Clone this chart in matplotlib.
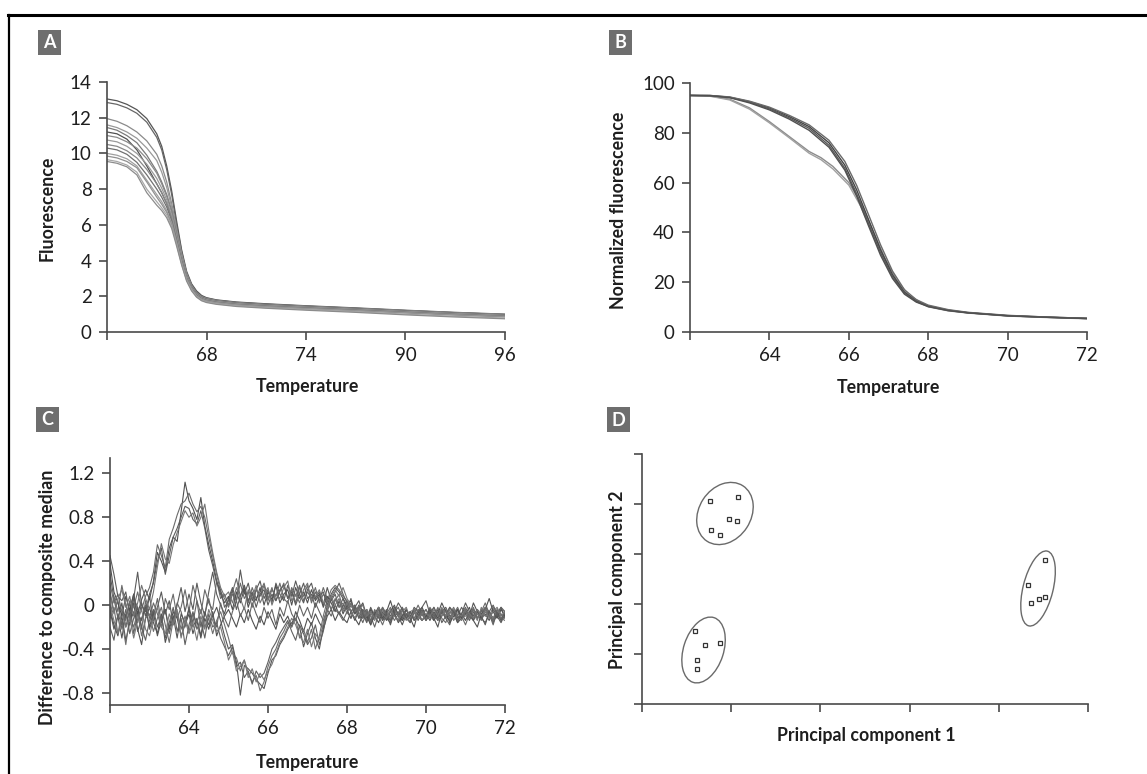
"""Four-panel HRM figure: raw melt curves, normalized curves,
difference plot and PCA clustering."""

import numpy as np
import matplotlib.pyplot as plt
from matplotlib.patches import Ellipse, Rectangle
from matplotlib.lines import Line2D
from matplotlib.transforms import ScaledTranslation

plt.rcParams["font.family"] = ["Lato", "DejaVu Sans"]

# ---
# Panel A: raw fluorescence (x axis is an uneven scale: positions 1..4 = 68, 74, 90, 96)
# ---
a_tick_labels = ["68", "74", "90", "96"]
a_pos = [0.0, 0.1, 0.2, 0.3, 0.4, 0.5, 0.55, 0.6, 0.65, 0.7, 0.75, 0.8,
         0.85, 0.9, 0.95, 1.0, 1.1, 1.3, 1.6, 2.0, 2.5, 3.0, 3.5, 4.0]
a_curves = [
    [13.05, 12.95, 12.75, 12.45, 11.95, 11.1, 10.4, 9.3, 7.9, 6.2, 4.6, 3.4, 2.7, 2.3, 2.05, 1.92, 1.8, 1.68, 1.58, 1.47, 1.35, 1.22, 1.1, 1.0],
    [12.85, 12.75, 12.55, 12.25, 11.75, 10.9, 10.2, 9.1, 7.7, 6.0, 4.5, 3.3, 2.65, 2.25, 2.0, 1.9, 1.78, 1.66, 1.56, 1.45, 1.33, 1.2, 1.08, 0.98],
    [11.95, 11.8, 11.55, 11.2, 10.7, 9.95, 9.3, 8.4, 7.2, 5.8, 4.4, 3.3, 2.6, 2.2, 1.98, 1.88, 1.76, 1.64, 1.54, 1.44, 1.32, 1.2, 1.08, 0.98],
    [11.6, 11.45, 11.2, 10.85, 10.3, 9.6, 8.95, 8.1, 7.0, 5.6, 4.3, 3.2, 2.55, 2.15, 1.95, 1.85, 1.74, 1.62, 1.52, 1.42, 1.3, 1.18, 1.06, 0.96],
    [11.45, 11.3, 11.0, 10.6, 9.9, 9.0, 8.4, 7.7, 6.8, 5.5, 4.2, 3.2, 2.55, 2.15, 1.95, 1.85, 1.73, 1.62, 1.52, 1.42, 1.3, 1.18, 1.06, 0.96],
    [11.2, 11.1, 10.8, 10.2, 9.3, 8.3, 7.8, 7.2, 6.4, 5.3, 4.1, 3.1, 2.5, 2.12, 1.92, 1.82, 1.72, 1.6, 1.5, 1.4, 1.28, 1.16, 1.04, 0.94],
    [11.0, 10.9, 10.65, 10.3, 9.7, 8.9, 8.3, 7.6, 6.7, 5.4, 4.2, 3.15, 2.5, 2.12, 1.92, 1.82, 1.72, 1.6, 1.5, 1.4, 1.28, 1.16, 1.04, 0.94],
    [10.75, 10.65, 10.4, 10.0, 9.4, 8.6, 8.05, 7.4, 6.5, 5.3, 4.1, 3.1, 2.48, 2.1, 1.9, 1.8, 1.7, 1.58, 1.48, 1.38, 1.26, 1.14, 1.02, 0.92],
    [10.5, 10.4, 10.15, 9.75, 9.1, 8.3, 7.8, 7.2, 6.35, 5.2, 4.0, 3.05, 2.45, 2.08, 1.88, 1.78, 1.68, 1.56, 1.46, 1.36, 1.24, 1.12, 1.0, 0.9],
    [10.3, 10.2, 9.95, 9.5, 8.8, 8.0, 7.55, 7.0, 6.2, 5.1, 4.0, 3.0, 2.42, 2.05, 1.86, 1.76, 1.66, 1.54, 1.44, 1.34, 1.22, 1.1, 0.98, 0.88],
    [10.0, 9.9, 9.7, 9.3, 8.5, 7.7, 7.3, 6.8, 6.1, 5.0, 3.9, 2.95, 2.4, 2.02, 1.84, 1.74, 1.64, 1.52, 1.42, 1.32, 1.2, 1.08, 0.96, 0.86],
    [9.85, 9.75, 9.55, 9.2, 8.4, 7.55, 7.15, 6.7, 6.0, 4.95, 3.85, 2.95, 2.38, 2.0, 1.82, 1.72, 1.62, 1.5, 1.4, 1.3, 1.18, 1.06, 0.94, 0.84],
    [9.65, 9.55, 9.35, 8.95, 8.0, 7.3, 6.95, 6.55, 5.9, 4.9, 3.8, 2.9, 2.35, 1.98, 1.78, 1.68, 1.58, 1.46, 1.36, 1.26, 1.14, 1.0, 0.88, 0.78],
    [9.55, 9.45, 9.25, 8.8, 7.8, 7.1, 6.8, 6.4, 5.8, 4.8, 3.75, 2.85, 2.3, 1.95, 1.75, 1.65, 1.55, 1.43, 1.33, 1.22, 1.1, 0.96, 0.84, 0.74],
]
a_colors = ["#555555", "#666666", "#8a8a8a", "#999999", "#7a7a7a", "#505050", "#8a8a8a",
            "#9a9a9a", "#888888", "#707070", "#a0a0a0", "#909090", "#a8a8a8", "#8c8c8c"]

# ---
# Panel B: normalized fluorescence
# ---
b_temp_main = [62, 62.5, 63, 63.5, 64, 64.5, 65, 65.5, 65.9, 66.2, 66.5, 66.8, 67.1,
               67.4, 67.7, 68, 68.5, 69, 69.5, 70, 71, 72]
b_main = [
    [95.0, 95.0, 94.3, 92.5, 90.0, 86.5, 82.5, 76.0, 67.0, 57.0, 45.0, 33.0, 23.0, 16.0, 12.5, 10.5, 8.8, 7.8, 7.2, 6.6, 6.0, 5.5],
    [95.0, 94.9, 94.2, 92.3, 89.6, 86.0, 81.8, 75.0, 65.8, 55.5, 43.5, 31.8, 22.2, 15.6, 12.2, 10.3, 8.7, 7.7, 7.1, 6.5, 5.9, 5.4],
    [95.0, 95.0, 94.4, 92.7, 90.3, 87.0, 83.2, 77.0, 68.5, 58.8, 47.0, 35.0, 24.5, 17.0, 13.0, 10.8, 9.0, 7.9, 7.3, 6.7, 6.0, 5.5],
    [95.0, 94.9, 94.1, 92.0, 89.2, 85.5, 81.0, 74.2, 65.0, 54.5, 42.5, 30.8, 21.5, 15.2, 12.0, 10.2, 8.6, 7.7, 7.1, 6.5, 5.9, 5.4],
]
b_temp_low = [62, 62.5, 63, 63.5, 64, 64.5, 65, 65.3, 65.6, 66, 66.3, 66.6, 66.9, 67.2,
              67.5, 67.8, 68, 68.5, 69, 69.5, 70, 71, 72]
b_low = [
    [95.0, 94.8, 93.5, 90.0, 84.5, 78.5, 72.5, 70.0, 66.5, 60.0, 52.0, 41.0, 30.0, 21.0, 15.0, 12.0, 10.3, 8.6, 7.7, 7.1, 6.5, 5.9, 5.4],
    [95.0, 94.7, 93.2, 89.5, 84.0, 78.0, 71.8, 69.2, 65.5, 59.0, 50.5, 39.5, 28.8, 20.2, 14.5, 11.8, 10.1, 8.5, 7.6, 7.0, 6.4, 5.8, 5.3],
]
b_main_colors = ["#444444", "#5a5a5a", "#6a6a6a", "#505050"]
b_low_colors = ["#8c8c8c", "#a0a0a0"]

# ---
# Panel C: difference to composite median, 62.0 .. 72.0 in 0.1 steps
# ---
c_temp = np.round(np.linspace(62.0, 72.0, 101), 1)
c_peak = [
    [0.38, 0.12, 0.02, -0.10, 0.08, -0.05, 0.10, -0.08, 0.05, 0.14,
     0.05, 0.22, 0.48, 0.40, 0.30, 0.52, 0.62, 0.58, 0.85, 1.12,
     0.95, 0.88, 0.78, 0.98, 0.72, 0.55, 0.40, 0.22, 0.10, 0.02,
     0.08, -0.04, 0.12, 0.02, 0.15, -0.02, 0.10, 0.04, 0.16, 0.00,
     0.12, 0.05, 0.18, 0.02, 0.10, 0.14, 0.00, 0.16, 0.06, 0.12,
     0.02, 0.14, 0.04, 0.10, -0.02, 0.08, 0.02, -0.06, 0.04, -0.08,
     0.00, -0.06, -0.14, -0.04, 0.02, -0.10, -0.18, -0.08, -0.02, -0.12,
     -0.06, 0.04, -0.08, -0.16, -0.10, -0.04, -0.12, -0.20, -0.06, -0.02,
     -0.10, -0.06, -0.14, -0.08, 0.02, -0.06, -0.16, -0.10, -0.04, -0.12,
     -0.08, -0.02, -0.14, -0.20, -0.08, -0.04, 0.06, -0.06, -0.12, -0.04,
     -0.10],
    [0.20, 0.02, 0.10, -0.06, -0.14, 0.04, -0.02, 0.12, -0.04, 0.08,
     0.16, 0.30, 0.55, 0.45, 0.34, 0.60, 0.70, 0.82, 0.92, 0.95,
     1.02, 0.92, 0.85, 0.90, 0.80, 0.62, 0.45, 0.28, 0.12, 0.06,
     -0.02, 0.10, 0.04, 0.20, 0.06, 0.12, -0.02, 0.14, 0.08, 0.18,
     0.04, 0.14, 0.08, 0.20, 0.06, 0.02, 0.16, 0.08, 0.18, 0.04,
     0.12, 0.06, 0.16, 0.02, 0.10, 0.04, -0.04, 0.06, -0.02, 0.02,
     -0.08, 0.02, -0.06, -0.02, -0.12, -0.06, -0.16, -0.04, -0.10, -0.02,
     -0.10, -0.06, -0.14, -0.08, -0.02, -0.10, -0.06, -0.14, -0.04, -0.10,
     -0.04, -0.12, -0.08, -0.14, -0.04, -0.06, -0.12, -0.04, -0.10, -0.14,
     -0.06, -0.10, -0.02, -0.12, -0.06, -0.02, -0.10, -0.14, -0.04, -0.08,
     -0.12],
    [0.45, 0.28, 0.08, 0.04, 0.12, -0.10, 0.06, 0.30, 0.00, -0.06,
     0.10, 0.20, 0.40, 0.52, 0.28, 0.45, 0.62, 0.70, 0.80, 0.90,
     0.88, 0.78, 0.74, 0.86, 0.70, 0.50, 0.36, 0.20, 0.14, -0.02,
     0.04, 0.14, -0.04, 0.08, 0.18, 0.04, 0.12, -0.02, 0.10, 0.14,
     0.00, 0.10, 0.04, 0.14, 0.18, 0.06, 0.12, 0.00, 0.10, 0.20,
     0.06, 0.10, -0.02, 0.08, 0.12, 0.00, 0.06, -0.04, -0.08, 0.00,
     -0.04, -0.12, -0.02, 0.04, -0.08, -0.16, -0.06, -0.10, -0.02, -0.14,
     -0.08, -0.18, -0.06, 0.02, -0.04, -0.12, -0.06, -0.14, -0.10, -0.02,
     0.04, -0.08, -0.12, -0.04, -0.16, -0.10, -0.02, -0.06, -0.14, -0.08,
     0.02, -0.06, -0.12, -0.04, -0.10, -0.18, -0.06, 0.00, -0.08, -0.14,
     -0.06],
    [0.10, -0.08, 0.06, 0.14, -0.02, 0.08, -0.10, 0.02, 0.18, 0.06,
     -0.04, 0.12, 0.35, 0.56, 0.42, 0.38, 0.55, 0.66, 0.76, 0.86,
     0.80, 0.84, 0.72, 0.80, 0.92, 0.68, 0.48, 0.30, 0.16, 0.08,
     0.12, 0.02, 0.16, 0.06, -0.04, 0.14, 0.06, 0.18, 0.02, 0.10,
     0.16, 0.00, 0.10, 0.06, 0.16, 0.22, 0.04, 0.10, 0.02, 0.14,
     0.20, 0.04, 0.08, 0.14, 0.02, -0.02, 0.08, 0.00, 0.06, -0.06,
     0.02, -0.06, -0.12, -0.04, 0.00, -0.10, -0.06, -0.12, -0.02, -0.08,
     -0.12, -0.04, -0.10, -0.14, -0.06, -0.02, -0.12, -0.06, -0.10, -0.14,
     -0.08, -0.10, -0.04, -0.10, -0.02, -0.10, -0.04, -0.14, -0.08, -0.10,
     -0.04, -0.08, -0.12, -0.04, -0.10, -0.04, -0.12, -0.06, -0.02, -0.10,
     -0.06],
]
c_dip = [
    [-0.05, -0.22, -0.10, -0.30, -0.08, -0.18, 0.02, -0.24, -0.12, -0.02,
     -0.20, -0.06, -0.28, -0.14, -0.04, -0.22, -0.10, -0.30, -0.08, -0.16,
     -0.04, -0.20, -0.12, -0.28, -0.06, -0.18, -0.10, -0.02, -0.14, -0.28,
     -0.40, -0.36, -0.52, -0.82, -0.55, -0.58, -0.62, -0.68, -0.72, -0.76,
     -0.62, -0.50, -0.46, -0.36, -0.30, -0.22, -0.16, -0.12, -0.20, -0.38,
     -0.26, -0.16, -0.30, -0.40, -0.20, 0.00, 0.10, 0.16, 0.12, 0.06,
     0.00, 0.04, -0.08, -0.02, -0.12, -0.04, -0.16, -0.10, -0.02, -0.08,
     -0.14, -0.06, 0.00, -0.10, -0.18, -0.08, -0.12, -0.02, -0.06, -0.14,
     -0.10, -0.04, -0.12, -0.20, -0.06, -0.10, -0.02, -0.08, -0.16, -0.12,
     -0.04, -0.10, 0.02, -0.06, -0.12, -0.08, -0.14, -0.04, -0.10, -0.16,
     -0.08],
    [-0.12, -0.02, -0.26, -0.14, -0.36, -0.10, -0.20, -0.06, -0.28, -0.12,
     -0.08, -0.24, -0.12, -0.02, -0.18, -0.34, -0.14, -0.06, -0.22, -0.10,
     -0.24, -0.08, -0.16, -0.04, -0.20, -0.12, -0.26, -0.14, -0.06, -0.18,
     -0.30, -0.44, -0.48, -0.60, -0.50, -0.62, -0.70, -0.64, -0.78, -0.70,
     -0.56, -0.46, -0.40, -0.30, -0.24, -0.16, -0.20, -0.12, -0.30, -0.22,
     -0.34, -0.22, -0.40, -0.28, -0.10, 0.04, 0.14, 0.18, 0.14, 0.08,
     0.04, -0.02, 0.00, -0.08, -0.04, -0.14, -0.08, -0.12, -0.04, -0.10,
     -0.04, -0.12, -0.08, -0.14, -0.04, -0.10, -0.06, -0.12, -0.04, -0.08,
     -0.14, -0.08, -0.02, -0.10, -0.06, -0.12, -0.08, -0.02, -0.10, -0.12,
     -0.06, -0.12, -0.04, -0.08, -0.14, -0.06, -0.10, -0.02, -0.08, -0.12,
     -0.14],
    [-0.20, -0.32, -0.08, -0.18, -0.04, -0.26, -0.12, -0.02, -0.20, -0.32,
     -0.14, -0.04, -0.20, -0.10, -0.30, -0.16, -0.02, -0.24, -0.12, -0.36,
     -0.18, -0.06, -0.22, -0.14, -0.30, -0.08, -0.20, -0.16, -0.30, -0.38,
     -0.46, -0.38, -0.56, -0.52, -0.66, -0.60, -0.72, -0.60, -0.66, -0.62,
     -0.52, -0.40, -0.34, -0.26, -0.20, -0.14, -0.24, -0.32, -0.18, -0.26,
     -0.36, -0.30, -0.18, -0.36, -0.24, -0.06, 0.06, 0.12, 0.20, 0.10,
     0.02, -0.06, 0.00, -0.12, -0.04, -0.08, -0.18, -0.06, -0.12, -0.02,
     -0.08, -0.14, -0.04, -0.10, -0.02, -0.12, -0.16, -0.06, -0.10, -0.04,
     -0.14, -0.08, -0.02, -0.10, -0.06, -0.12, -0.18, -0.06, -0.10, -0.02,
     -0.08, -0.14, -0.06, -0.12, -0.04, -0.10, -0.06, -0.16, -0.08, -0.02,
     -0.12],
    [0.00, -0.14, -0.26, -0.06, -0.20, -0.12, -0.30, -0.14, -0.04, -0.22,
     -0.28, -0.12, -0.02, -0.20, -0.26, -0.08, -0.18, -0.04, -0.30, -0.14,
     -0.26, -0.16, -0.32, -0.10, -0.22, -0.04, -0.14, -0.24, -0.20, -0.34,
     -0.50, -0.42, -0.60, -0.56, -0.50, -0.66, -0.58, -0.70, -0.62, -0.68,
     -0.60, -0.54, -0.44, -0.34, -0.28, -0.20, -0.12, -0.18, -0.28, -0.34,
     -0.22, -0.38, -0.26, -0.32, -0.16, -0.04, 0.08, 0.14, 0.08, 0.16,
     0.06, 0.00, -0.06, -0.02, -0.10, -0.04, -0.10, -0.14, -0.06, -0.10,
     -0.06, -0.12, -0.04, -0.10, -0.08, -0.14, -0.06, -0.04, -0.12, -0.08,
     -0.04, -0.10, -0.14, -0.06, -0.10, -0.04, -0.12, -0.08, -0.06, -0.12,
     -0.10, -0.06, -0.08, -0.14, -0.02, -0.10, -0.08, -0.12, -0.04, -0.10,
     -0.08],
]
c_base = [
    [0.28, 0.06, -0.12, 0.02, -0.20, -0.04, 0.10, -0.16, 0.02, -0.10,
     0.08, -0.14, -0.02, 0.12, -0.08, 0.04, -0.18, 0.00, 0.16, -0.06,
     0.10, -0.04, 0.20, 0.02, -0.10, 0.12, 0.30, 0.10, 0.00, -0.08,
     0.06, 0.16, 0.04, 0.32, 0.10, 0.20, 0.04, 0.14, 0.22, 0.06,
     0.14, 0.02, 0.20, 0.10, 0.04, 0.18, 0.08, 0.22, 0.10, 0.02,
     0.14, 0.20, 0.06, 0.12, 0.00, 0.16, 0.04, 0.10, -0.02, 0.06,
     -0.04, 0.06, -0.08, 0.00, -0.06, -0.12, -0.02, -0.10, -0.04, -0.14,
     -0.06, -0.10, -0.02, -0.08, -0.12, -0.04, -0.10, -0.04, -0.14, -0.06,
     -0.10, -0.04, -0.08, -0.12, -0.06, -0.02, -0.10, -0.08, -0.04, -0.12,
     -0.04, -0.08, -0.14, -0.06, -0.10, -0.02, -0.06, -0.12, -0.08, -0.02,
     -0.06],
    [-0.10, 0.08, -0.06, 0.18, 0.00, -0.14, 0.06, -0.02, -0.22, 0.04,
     -0.12, 0.02, -0.08, -0.20, 0.06, -0.04, 0.10, -0.12, -0.02, 0.14,
     -0.06, 0.18, 0.04, -0.08, 0.14, 0.02, -0.04, 0.22, 0.06, 0.10,
     0.00, 0.12, 0.24, 0.08, 0.18, 0.02, 0.16, 0.06, 0.12, 0.20,
     0.06, 0.16, 0.04, 0.12, 0.20, 0.06, 0.14, 0.02, 0.16, 0.08,
     0.18, 0.02, 0.12, 0.04, 0.16, 0.06, -0.04, 0.04, 0.10, -0.04,
     0.04, -0.06, -0.02, -0.12, -0.08, -0.04, -0.14, -0.06, -0.10, -0.18,
     -0.08, -0.02, -0.10, -0.06, -0.14, -0.04, -0.12, -0.08, 0.00, -0.08,
     -0.14, -0.06, -0.10, -0.02, -0.12, -0.16, -0.06, -0.08, -0.02, -0.10,
     -0.18, -0.08, -0.04, -0.12, -0.06, 0.02, -0.08, -0.14, -0.10, -0.04,
     -0.06],
    [-0.04, -0.18, -0.28, -0.10, -0.32, -0.16, -0.06, -0.22, -0.36, -0.12,
     -0.02, -0.16, -0.26, -0.08, -0.34, -0.20, -0.06, -0.12, -0.28, -0.18,
     -0.08, -0.26, -0.14, -0.30, -0.12, -0.22, -0.06, -0.28, -0.18, -0.10,
     -0.04, -0.12, -0.20, -0.08, -0.16, -0.04, -0.14, -0.22, -0.10, -0.18,
     -0.06, -0.14, -0.22, -0.08, -0.16, -0.10, -0.20, -0.06, -0.14, -0.24,
     -0.12, -0.18, -0.08, -0.16, -0.22, -0.10, -0.04, -0.14, -0.06, -0.12,
     -0.16, -0.06, -0.12, -0.18, -0.08, -0.14, -0.04, -0.10, -0.16, -0.06,
     -0.12, -0.16, -0.06, -0.10, -0.14, -0.08, -0.12, -0.04, -0.10, -0.14,
     -0.08, -0.14, -0.06, -0.12, -0.04, -0.10, -0.14, -0.06, -0.12, -0.08,
     -0.14, -0.06, -0.10, -0.04, -0.12, -0.16, -0.08, -0.12, -0.06, -0.14,
     -0.10],
    [0.12, -0.06, 0.04, -0.22, -0.10, 0.02, -0.26, -0.08, -0.14, 0.00,
     -0.22, -0.10, 0.06, -0.16, -0.04, -0.26, -0.12, 0.02, -0.06, -0.20,
     -0.02, -0.16, 0.04, -0.20, -0.08, 0.06, -0.10, -0.20, 0.02, -0.12,
     -0.20, -0.06, 0.04, -0.10, -0.02, -0.14, 0.02, -0.08, -0.16, -0.02,
     -0.12, -0.04, -0.18, -0.02, -0.10, 0.04, -0.08, -0.14, 0.00, -0.10,
     -0.02, -0.12, 0.02, -0.06, -0.14, -0.04, -0.10, 0.00, -0.08, -0.14,
     -0.06, -0.12, -0.02, -0.08, -0.16, -0.06, -0.10, -0.20, -0.08, -0.04,
     -0.10, -0.14, -0.06, -0.02, -0.12, -0.08, -0.16, -0.04, -0.10, -0.06,
     -0.12, -0.02, -0.08, -0.14, -0.10, -0.04, -0.12, -0.06, -0.16, -0.08,
     -0.02, -0.10, -0.14, -0.06, -0.12, -0.04, -0.08, -0.18, -0.06, -0.12,
     -0.08],
]
c_tick_labels = ["-0.8", "-0.4", "0", "0.4", "0.8", "1.2"]

# ---
# Panel D: PCA scores (arbitrary units) and cluster ellipses
# ---
d_pc1 = [0.76, 1.08, 0.97, 1.06, 0.77, 0.87,
         0.59, 0.71, 0.87, 0.62, 0.62,
         4.52, 4.33, 4.36, 4.45, 4.52]
d_pc2 = [4.06, 4.15, 3.71, 3.67, 3.49, 3.39,
         1.46, 1.19, 1.23, 0.89, 0.71,
         2.88, 2.39, 2.02, 2.11, 2.15]
d_ell_center = [(0.93, 3.81), (0.69, 1.08), (4.44, 2.31)]
d_ell_axes_px = [(66, 52), (68, 40), (77, 30)]
d_ell_angle = [57, 72, 76]

W, H = 1147, 774
SPINE = "#4a4a4a"
TXT = "#1e1e1e"


def px_axes(left, right, top, bottom):
    return [left / W, 1 - bottom / H, (right - left) / W, (bottom - top) / H]


def style_axes(ax):
    for side in ("top", "right"):
        ax.spines[side].set_visible(False)
    for side in ("left", "bottom"):
        ax.spines[side].set_color(SPINE)
        ax.spines[side].set_linewidth(1.2)
    ax.tick_params(direction="out", length=6, width=1.2, color=SPINE,
                   labelsize=13.5, labelcolor=TXT, pad=5)


def set_labels(ax, xlabel, xy_x, ylabel, xy_y):
    ax.set_xlabel(xlabel, fontsize=12.8, fontweight="bold", color=TXT)
    ax.set_ylabel(ylabel, fontsize=12.8, fontweight="bold", color=TXT)
    ax.xaxis.label.set_va("center")
    ax.yaxis.label.set_va("center")
    ax.xaxis.set_label_coords(*xy_x)
    ax.yaxis.set_label_coords(*xy_y)


def panel_letter(fig, letter, cx, cy):
    fig.patches.append(Rectangle(((cx - 11.5) / W, 1 - (cy + 12.5) / H), 23 / W, 25 / H,
                                 transform=fig.transFigure, facecolor="#6e6e6e",
                                 edgecolor="none"))
    fig.text(cx / W, 1 - cy / H, letter, ha="center", va="center", color="white",
             fontsize=13, fontweight="bold")


def main():
    fig = plt.figure(figsize=(W / 100, H / 100), dpi=100)

    # frame (top and left edges only)
    fig.add_artist(Line2D([8 / W, 1], [1 - 15 / H, 1 - 15 / H], color="black", lw=2.2,
                          transform=fig.transFigure))
    fig.add_artist(Line2D([9 / W, 9 / W], [1 - 15 / H, 0], color="black", lw=1.6,
                          transform=fig.transFigure))

    # A
    ax = fig.add_axes(px_axes(107, 505, 82, 332))
    for curve, col in zip(a_curves, a_colors):
        ax.plot(a_pos, curve, color=col, lw=0.9)
    ax.set_xlim(0, 4)
    ax.set_ylim(0, 14)
    ax.set_xticks([0, 1, 2, 3, 4], [""] + a_tick_labels)
    ax.set_yticks(range(0, 15, 2))
    style_axes(ax)
    set_labels(ax, "Temperature", (0.503, -0.22), "Fluorescence", (-0.151, 0.496))
    panel_letter(fig, "A", 49.5, 42.5)

    # B
    ax = fig.add_axes(px_axes(690, 1087, 83, 332))
    for curve, col in zip(b_low, b_low_colors):
        ax.plot(b_temp_low, curve, color=col, lw=1.0)
    for curve, col in zip(b_main, b_main_colors):
        ax.plot(b_temp_main, curve, color=col, lw=1.0)
    ax.set_xlim(62, 72)
    ax.set_ylim(0, 100)
    ax.set_xticks(range(62, 73, 2), [""] + [str(t) for t in range(64, 73, 2)])
    ax.set_yticks(range(0, 101, 20))
    style_axes(ax)
    set_labels(ax, "Temperature", (0.499, -0.221), "Normalized fluorescence", (-0.181, 0.49))
    panel_letter(fig, "B", 620, 42.5)

    # C
    ax = fig.add_axes(px_axes(110, 505, 458, 705))
    groups = [(c_base, ["#5a5a5a", "#6a6a6a", "#505050", "#646464"]),
              (c_dip, ["#555555", "#6e6e6e", "#606060", "#787878"]),
              (c_peak, ["#505050", "#6a6a6a", "#5c5c5c", "#747474"])]
    for curves, cols in groups:
        for curve, col in zip(curves, cols):
            ax.plot(c_temp, curve, color=col, lw=0.8)
    ax.set_xlim(62, 72)
    ax.set_ylim(-0.91, 1.34)
    ax.set_xticks(range(62, 73, 2), [""] + [str(t) for t in range(64, 73, 2)])
    ax.set_yticks([-0.8, -0.4, 0, 0.4, 0.8, 1.2], c_tick_labels)
    style_axes(ax)
    set_labels(ax, "Temperature", (0.501, -0.231), "Difference to composite median",
               (-0.157, 0.437))
    panel_letter(fig, "C", 47.5, 419.5)

    # D
    ax = fig.add_axes(px_axes(642, 1088, 454, 704))
    ax.plot(d_pc1, d_pc2, linestyle="none", marker="s", markersize=3.2,
            markerfacecolor="white", markeredgecolor="#333333", markeredgewidth=0.9)
    for (cx, cy), (w, h), ang in zip(d_ell_center, d_ell_axes_px, d_ell_angle):
        tr = fig.dpi_scale_trans + ScaledTranslation(cx, cy, ax.transData)
        ax.add_patch(Ellipse((0, 0), w / 100, h / 100, angle=ang, transform=tr,
                             facecolor="none", edgecolor="#6a6a6a", lw=1.0))
    ax.set_xlim(0, 5)
    ax.set_ylim(0, 5)
    ax.set_xticks(range(6), [""] * 6)
    ax.set_yticks(range(6), [""] * 6)
    style_axes(ax)
    set_labels(ax, "Principal component 1", (0.504, -0.124), "Principal component 2",
               (-0.056, 0.496))
    panel_letter(fig, "D", 618.5, 420)

    fig.savefig("out.png", dpi=100, facecolor="white")


if __name__ == "__main__":
    main()
